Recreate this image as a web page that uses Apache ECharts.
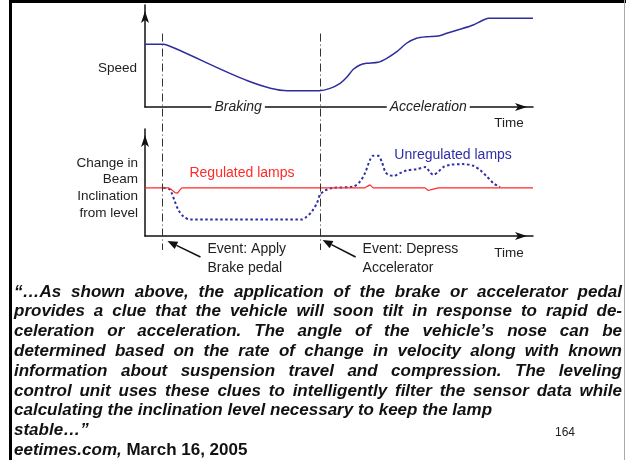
<!DOCTYPE html>
<html>
<head>
<meta charset="utf-8">
<script src="https://cdn.jsdelivr.net/npm/echarts@6/dist/echarts.min.js"></script>
<style>
  html, body { margin: 0; padding: 0; background: #fff; }
  #main { width: 626px; height: 460px; }
</style>
</head>
<body>
<div id="main"></div>
<script>
// time runs 0..100 across both panels
const brakeTime = 4.5
const accelTime = 45

// upper panel: vehicle speed [time, speed]
const speedPoints = [
  [0, 61.5], [4.7, 61.5], [5.6, 60.8], [36.7, 16.0], [44.9, 16.0], [47.7, 18.3],
  [50.3, 23.2], [52.0, 29.1], [53.7, 37.0], [55.4, 41.2], [57.1, 42.8], [60.1, 43.8],
  [62.3, 47.7], [64.9, 54.2], [67.4, 62.5], [70.0, 67.4], [72.6, 68.9], [75.6, 69.6],
  [77.8, 72.3], [81.2, 76.2], [84.6, 80.4], [86.8, 84.6], [88.5, 87.0], [100, 87.0]
]

// lower panel: beam inclination from level [time, change]
const regulatedPoints = [
  [0, 0], [6.0, 0], [6.9, -1.9], [7.7, -4.4], [8.4, -5.0], [9.0, -1.9], [9.5, 0],
  [56.7, 0], [57.3, 1.4], [58.0, 2.8], [58.8, 0], [72.2, 0], [73.0, -2.5],
  [74.3, -1.2], [75.6, 0], [100, 0]
]
const unregulatedPoints = [
  [4.7, 0], [6.3, -1.2], [6.9, -5.0], [7.7, -12.8], [8.6, -20.6], [9.9, -26.8],
  [11.6, -29.6], [40.4, -29.6], [41.7, -26.8], [43.0, -22.2], [44.3, -14.3],
  [45.1, -6.5], [46.4, -2.5], [48.5, 0], [53.7, 1.2], [55.4, 5.9], [56.7, 13.7],
  [58.0, 26.2], [58.8, 29.9], [60.1, 29.9], [61.0, 24.6], [61.9, 15.2], [62.7, 12.2],
  [64.0, 11.2], [65.7, 13.7], [67.4, 16.2], [70.0, 17.5], [72.4, 19.4], [73.3, 15.2],
  [74.3, 12.2], [75.6, 15.2], [76.9, 19.4], [78.6, 21.5], [82.0, 22.2], [84.6, 20.6],
  [86.3, 16.8], [88.1, 10.6], [89.8, 4.4], [91.5, 0.7]
]

const quoteLines = [
  '\u201c\u2026As shown above, the application of the brake or accelerator pedal',
  'provides a clue that the vehicle will soon tilt in response to rapid de-',
  'celeration or acceleration. The angle of the vehicle\u2019s nose can be',
  'determined based on the rate of change in velocity along with known',
  'information about suspension travel and compression. The leveling',
  'control unit uses these clues to intelligently filter the sensor data while',
  'calculating the inclination level necessary to keep the lamp',
  'stable\u2026\u201d'
]
const justifiedCount = 6

const FONT = 'Liberation Sans'
const ink = '#222'

const axisBase = {
  type: 'value',
  axisLine: {
    show: true,
    onZero: false,
    symbol: ['none', 'arrow'],
    symbolSize: [6, 12],
    symbolOffset: [0, -6],
    lineStyle: { color: '#111', width: 1.5 },
  },
  axisTick: { show: false },
  axisLabel: { show: false },
  splitLine: { show: false },
}

const option = {
  animation: false,
  backgroundColor: '#fff',
  grid: [
    { left: 145, top: 5, width: 388, height: 102 },
    { left: 145, top: 129, width: 388, height: 107 },
  ],
  xAxis: [
    { ...axisBase, gridIndex: 0, min: 0, max: 100 },
    { ...axisBase, gridIndex: 1, min: 0, max: 100 },
  ],
  yAxis: [
    { ...axisBase, gridIndex: 0, min: 0, max: 100 },
    { ...axisBase, gridIndex: 1, min: -45, max: 55 },
  ],
  series: [
    {
      name: 'Speed',
      type: 'line',
      xAxisIndex: 0,
      yAxisIndex: 0,
      data: speedPoints,
      showSymbol: false,
      smooth: 0.25,
      lineStyle: { color: '#2d2d9c', width: 1.5 },
    },
    {
      name: 'Unregulated lamps',
      type: 'line',
      xAxisIndex: 1,
      yAxisIndex: 1,
      data: unregulatedPoints,
      showSymbol: false,
      smooth: 0.3,
      lineStyle: { color: '#2e2ea6', width: 2, type: [2.5, 2.5] },
    },
    {
      name: 'Regulated lamps',
      type: 'line',
      xAxisIndex: 1,
      yAxisIndex: 1,
      data: regulatedPoints,
      showSymbol: false,
      lineStyle: { color: '#ff2a2a', width: 1.2 },
    },
  ],
}

const chart = echarts.init(document.getElementById('main'))
chart.setOption(option)

function px(g, t, v) {
  return chart.convertToPixel({ gridIndex: g }, [t, v])
}

function label(x, y, text, opts) {
  const o = opts || {}
  return {
    type: 'text',
    x: x,
    y: y,
    z: 10,
    style: {
      text: text,
      fill: o.fill || ink,
      fontFamily: FONT,
      fontSize: o.size || 14,
      fontStyle: o.italic ? 'italic' : 'normal',
      fontWeight: o.bold ? 'bold' : 'normal',
      align: o.align || 'left',
      textAlign: o.align || 'left',
      verticalAlign: 'middle',
      textVerticalAlign: 'middle',
      lineHeight: o.lineHeight,
      backgroundColor: o.bg,
      padding: o.bg ? [0, 3] : 0,
    },
  }
}

function arrow(from, to) {
  const dx = to[0] - from[0]
  const dy = to[1] - from[1]
  const len = Math.sqrt(dx * dx + dy * dy)
  const ux = dx / len
  const uy = dy / len
  const hl = 10
  const hw = 4
  const bx = to[0] - ux * hl
  const by = to[1] - uy * hl
  return [
    { type: 'line', z: 10, shape: { x1: from[0], y1: from[1], x2: bx, y2: by }, style: { stroke: '#111', lineWidth: 1.5 } },
    {
      type: 'polygon',
      z: 10,
      shape: { points: [to, [bx - uy * hw, by + ux * hw], [bx + uy * hw, by - ux * hw]] },
      style: { fill: '#111' },
    },
  ]
}

const elems = []

// frame
elems.push({ type: 'rect', shape: { x: 9, y: 0, width: 3, height: 460 }, style: { fill: '#000' } })
elems.push({ type: 'rect', shape: { x: 9, y: 0, width: 617, height: 3 }, style: { fill: '#000' } })
elems.push({ type: 'rect', shape: { x: 624, y: 0, width: 1, height: 460 }, style: { fill: '#aaa' } })

const topAxisY = px(0, 0, 0)[1]
const lowAxisY = px(1, 0, -45)[1]
const axisX = px(0, 0, 0)[0]

// event lines
;[brakeTime, accelTime].forEach(function (t) {
  const x = Math.round(px(0, t, 0)[0]) + 0.5
  elems.push({
    type: 'line',
    z: 5,
    shape: { x1: x, y1: px(0, t, 72)[1], x2: x, y2: lowAxisY + 14 },
    style: { stroke: '#333', lineWidth: 1, lineDash: [8, 3, 1, 3] },
  })
})

// upper panel labels
elems.push(label(axisX - 8, px(0, 0, 38)[1], 'Speed', { align: 'right', size: 13.5 }))
elems.push(label(px(0, 24, 0)[0], topAxisY, 'Braking', { align: 'center', italic: true, bg: '#fff' }))
elems.push(label(px(0, 73, 0)[0], topAxisY, 'Acceleration', { align: 'center', italic: true, bg: '#fff' }))
elems.push(label(px(0, 93.8, 0)[0], topAxisY + 16, 'Time', { align: 'center', size: 13.5 }))

// lower panel labels
elems.push(label(axisX - 7, px(1, 0, 0)[1], 'Change in\nBeam\nInclination\nfrom level', { align: 'right', size: 13.5, lineHeight: 16.7 }))
elems.push(label(px(1, 25, 14)[0], px(1, 25, 14)[1], 'Regulated lamps', { align: 'center', fill: '#ff2a2a' }))
elems.push(label(px(1, 79.4, 31)[0], px(1, 79.4, 31)[1], 'Unregulated lamps', { align: 'center', fill: '#2e2ea6' }))
elems.push(label(px(1, 93.8, 0)[0], lowAxisY + 17, 'Time', { align: 'center', size: 13.5 }))

const brakeX = px(1, brakeTime, 0)[0]
const accelX = px(1, accelTime, 0)[0]
elems.push(label(brakeX + 45, lowAxisY + 22.5, 'Event: Apply\nBrake pedal', { lineHeight: 19 }))
elems.push(label(accelX + 43, lowAxisY + 22.5, 'Event: Depress\nAccelerator', { lineHeight: 19 }))
arrow([brakeX + 38, lowAxisY + 21], [brakeX + 5, lowAxisY + 5]).forEach(function (e) { elems.push(e) })
arrow([accelX + 36, lowAxisY + 21], [accelX + 3, lowAxisY + 4]).forEach(function (e) { elems.push(e) })

// quote paragraph, justified like the slide
const ctx = document.createElement('canvas').getContext('2d')
ctx.font = 'italic bold 17px "' + FONT + '"'
const textLeft = 14
const textRight = 622
const lineTop = 292
const lineStep = 19.8
quoteLines.forEach(function (line, i) {
  const y = lineTop + i * lineStep
  if (i < justifiedCount) {
    const words = line.split(' ')
    const widths = words.map(function (w) { return ctx.measureText(w).width })
    const total = widths.reduce(function (a, b) { return a + b }, 0)
    const gap = (textRight - textLeft - total) / (words.length - 1)
    let x = textLeft
    words.forEach(function (w, k) {
      elems.push(label(x, y, w, { size: 17, bold: true, italic: true, fill: '#111' }))
      x += widths[k] + gap
    })
  } else {
    elems.push(label(textLeft, y, line, { size: 17, bold: true, italic: true, fill: '#111' }))
  }
})
const sourceY = lineTop + quoteLines.length * lineStep
const sourceName = 'eetimes.com,'
elems.push(label(textLeft, sourceY, sourceName, { size: 17, bold: true, italic: true, fill: '#111' }))
elems.push(label(textLeft + ctx.measureText(sourceName).width, sourceY, ' March 16, 2005', { size: 17, bold: true, fill: '#111' }))
elems.push(label(565, lineTop + 7 * lineStep + 2, '164', { align: 'center', size: 12 }))

chart.setOption({ graphic: { elements: elems } })
</script>
</body>
</html>
